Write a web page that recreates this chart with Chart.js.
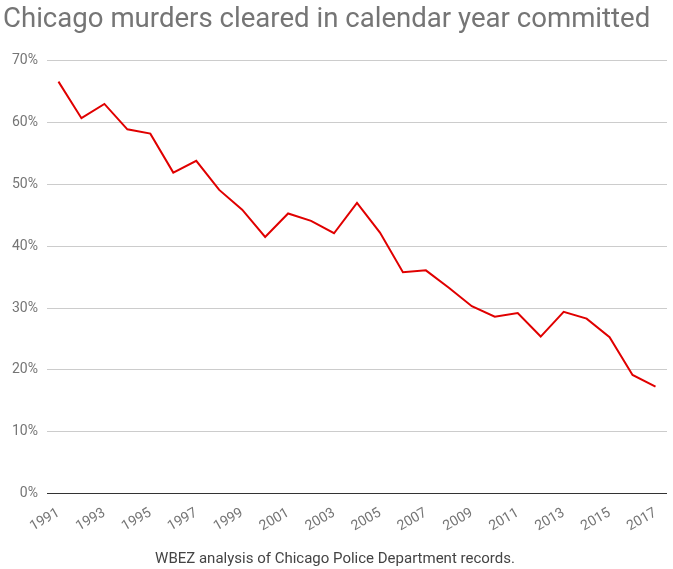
<!DOCTYPE html>
<html>
<head>
<meta charset="utf-8">
<script src="https://cdn.jsdelivr.net/npm/chart.js@4"></script>
<style>
  html, body { margin: 0; padding: 0; background: #fff; }
  #wrap { width: 673px; height: 569px; position: relative; }
</style>
</head>
<body>
<div id="wrap"><canvas id="murderChart"></canvas></div>
<script>
  // clearance rate by year (percent)
  const years = [
    "1991", "1992", "1993", "1994", "1995", "1996", "1997", "1998", "1999",
    "2000", "2001", "2002", "2003", "2004", "2005", "2006", "2007", "2008",
    "2009", "2010", "2011", "2012", "2013", "2014", "2015", "2016", "2017"
  ];
  const clearedPct = [
    66.6, 60.7, 63.0, 58.9, 58.2, 51.9, 53.8, 49.1, 45.9,
    41.5, 45.3, 44.1, 42.1, 47.0, 42.2, 35.8, 36.1, 33.3,
    30.3, 28.6, 29.2, 25.4, 29.4, 28.3, 25.3, 19.2, 17.3
  ];
  const yTicks = [0, 10, 20, 30, 40, 50, 60, 70];

  const ctx = document.getElementById("murderChart").getContext("2d");
  new Chart(ctx, {
    type: "line",
    data: {
      labels: years,
      datasets: [{
        data: clearedPct,
        borderColor: "#e00000",
        borderWidth: 2,
        pointRadius: 0,
        tension: 0,
        fill: false
      }]
    },
    options: {
      responsive: true,
      maintainAspectRatio: false,
      animation: false,
      layout: { padding: { left: 3, right: 6, top: 4, bottom: 1 } },
      plugins: {
        legend: { display: false },
        tooltip: { enabled: false },
        title: {
          display: true,
          text: "Chicago murders cleared in calendar year committed",
          align: "start",
          color: "#757575",
          font: { family: "Roboto", size: 27.6, weight: "normal" },
          padding: { top: 0, bottom: 23.5 }
        },
        subtitle: {
          display: true,
          position: "bottom",
          text: "WBEZ analysis of Chicago Police Department records.",
          color: "#444",
          font: { family: "Roboto", size: 15 },
          padding: { top: 12, bottom: 0 }
        }
      },
      scales: {
        x: {
          type: "category",
          offset: true,
          grid: { display: false },
          border: { display: false },
          ticks: {
            autoSkip: false,
            minRotation: 30,
            maxRotation: 30,
            color: "#757575",
            font: { family: "Roboto", size: 14 },
            callback: function (v, i) { return i % 2 === 0 ? years[i] : ""; }
          }
        },
        y: {
          min: 0,
          max: 70,
          afterBuildTicks: axis => { axis.ticks = yTicks.map(v => ({ value: v })); },
          border: { display: false },
          grid: {
            drawTicks: false,
            color: c => (c.tick && c.tick.value === 0 ? "#333" : "#ccc")
          },
          ticks: {
            padding: 9,
            color: "#757575",
            font: { family: "Roboto", size: 14 },
            callback: v => v + "%"
          }
        }
      }
    }
  });
</script>
</body>
</html>
